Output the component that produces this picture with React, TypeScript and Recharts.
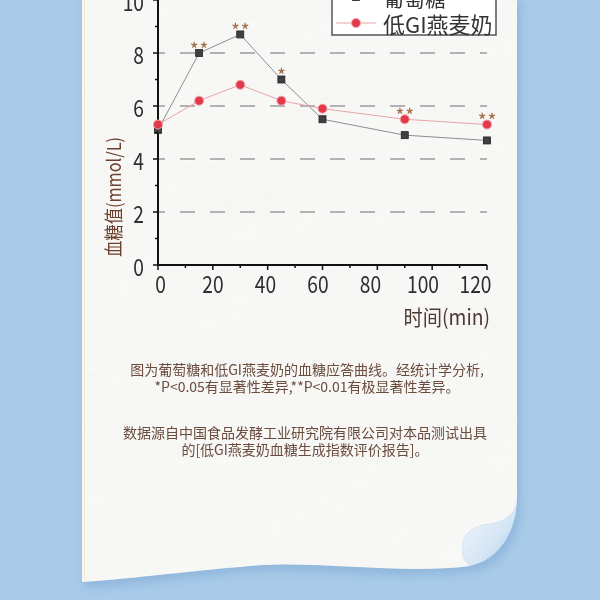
import React from 'react';
import { LineChart, Line, XAxis, YAxis, ReferenceLine, LabelList } from 'recharts';

const times = [0, 15, 30, 45, 60, 90, 120];
const glucose = [5.1, 8.0, 8.7, 7.0, 5.5, 4.9, 4.7];
const oatMilk = [5.3, 6.2, 6.8, 6.2, 5.9, 5.5, 5.3];
const glucoseSig = ['', '**', '**', '*', '', '', ''];
const oatMilkSig = ['', '', '', '', '', '**', '**'];
const xTicks = [0, 10, 20, 30, 40, 50, 60, 70, 80, 90, 100, 110, 120];
const yTicks = [0, 1, 2, 3, 4, 5, 6, 7, 8, 9, 10];
const gridValues = [2, 4, 6, 8];
const seriesNames = ['葡萄糖', '低GI燕麦奶'];
const yLabel = '血糖值(mmol/L)';
const xLabel = '时间(min)';
const note1 = ['图为葡萄糖和低GI燕麦奶的血糖应答曲线。经统计学分析,', '*P<0.05有显著性差异,**P<0.01有极显著性差异。'];
const note2 = ['数据源自中国食品发酵工业研究院有限公司对本品测试出具', '的[低GI燕麦奶血糖生成指数评价报告]。'];

const data = times.map((t, i) => ({
  t,
  glucose: glucose[i],
  oat: oatMilk[i],
  gSig: glucoseSig[i],
  oSig: oatMilkSig[i],
}));

const FONT = '"Noto Sans CJK SC", "Noto Sans", sans-serif';

const YTick = (props: any) => {
  const { x, y, payload } = props;
  const v = payload.value;
  const major = v % 2 === 0;
  return (
    <g>
      <line x1={x - (major ? 5 : 3)} x2={x} y1={y} y2={y} stroke="#111" strokeWidth={1.5} />
      {major && (
        <text transform={`translate(${x - 14},${y + 1}) scale(0.8,1)`} textAnchor="end" dominantBaseline="central" fontSize={24} fill="#2e2e2e" fontFamily={FONT}>
          {v}
        </text>
      )}
    </g>
  );
};

const XTick = (props: any) => {
  const { x, y, payload } = props;
  const v = payload.value;
  const major = v % 20 === 0;
  const tx = x - (v / 120) * 14 + 2.5;
  return (
    <g>
      <line x1={x} x2={x} y1={y} y2={y + (major ? 5 : 3)} stroke="#111" strokeWidth={1.5} />
      {major && (
        <text transform={`translate(${tx},${y + 18}) scale(0.8,1)`} textAnchor="middle" dominantBaseline="central" fontSize={24} fill="#2e2e2e" fontFamily={FONT}>
          {v}
        </text>
      )}
    </g>
  );
};

const renderSig = (props: any) => {
  const { value } = props;
  const x = props.x ?? props.viewBox?.x;
  const y = props.y ?? props.viewBox?.y;
  if (!value) return null;
  return (
    <text x={x} y={y + 3.5} dx={0.5} textAnchor="middle" fontSize={19} letterSpacing={1} fill="#a06b43" fontFamily={FONT}>
      {value}
    </text>
  );
};

const SquareDot = (props: any) => {
  const { cx, cy, index } = props;
  return <rect key={`s${index}`} x={cx - 3.5} y={cy - 3.5} width={7} height={7} fill="#404040" stroke="#222" strokeWidth={0.8} />;
};

const CircleDot = (props: any) => {
  const { cx, cy, index } = props;
  return <circle key={`c${index}`} cx={cx} cy={cy} r={4.5} fill="#e23a4a" stroke="#f2a0a8" strokeWidth={1} />;
};

const YAxisLabel = () => (
  <text transform="translate(112,197) rotate(-90) scale(0.86,1)" textAnchor="middle" dominantBaseline="central" fontSize={19} fill="#6e3f2c" fontFamily={FONT}>
    {yLabel}
  </text>
);

export default function App() {
  return (
    <div style={{ position: 'absolute', left: 0, top: 0, width: 600, height: 600, background: '#a9cbe8', overflow: 'hidden', fontFamily: FONT }}>
      <svg width={600} height={600} style={{ position: 'absolute', left: 0, top: 0 }}>
        <defs>
          <filter id="blur6" x="-20%" y="-20%" width="140%" height="140%">
            <feGaussianBlur stdDeviation="5" />
          </filter>
          <filter id="crumple" x="0" y="0" width="100%" height="100%">
            <feTurbulence type="fractalNoise" baseFrequency="0.012 0.02" numOctaves="4" seed="7" />
            <feDiffuseLighting lightingColor="#ffffff" surfaceScale="2.2" result="lit">
              <feDistantLight azimuth="225" elevation="62" />
            </feDiffuseLighting>
          </filter>
          <clipPath id="paperClip">
            <path d="M82,0 H517 V498 C517,514 505,522 488,524 C470,526 462,536 462,550 C462,558 466,563 470,566 C400,575 320,560 250,566 C180,572 120,580 82,582 Z" />
          </clipPath>
          <linearGradient id="curl" x1="0" y1="0" x2="1" y2="1">
            <stop offset="0" stopColor="#f4f8fc" />
            <stop offset="0.6" stopColor="#d6e6f5" />
            <stop offset="1" stopColor="#a9cbe8" />
          </linearGradient>
        </defs>
        <path d="M84,0 H521 V505 C521,540 500,570 472,572 C400,582 320,568 250,572 C180,578 120,588 84,588 Z" fill="#86afd8" opacity={0.7} filter="url(#blur6)" />
        <path d="M82,0 H517 V498 C517,514 505,522 488,524 C470,526 462,536 462,550 C462,558 466,563 470,566 C400,575 320,560 250,566 C180,572 120,580 82,582 Z" fill="#f8f8f7" />
        <g clipPath="url(#paperClip)">
          <rect x={82} y={0} width={436} height={585} filter="url(#crumple)" opacity={0.18} style={{ mixBlendMode: 'multiply' }} />
        </g>
        <path d="M517,498 C517,530 500,560 470,566 C466,563 462,558 462,550 C462,536 470,526 488,524 C505,522 517,514 517,498 Z" fill="url(#curl)" />
        <line x1={84.5} x2={84.5} y1={0} y2={580} stroke="#efe6cf" strokeWidth={1} />
      </svg>
      <div style={{ position: 'absolute', left: 0, top: 0 }}>
        <LineChart width={600} height={330} data={data} margin={{ top: 0, right: 113, bottom: 35, left: 98 }}>
          <XAxis
            dataKey="t"
            type="number"
            domain={[0, 120]}
            ticks={xTicks}
            interval={0}
            height={30}
            tickSize={0}
            tickMargin={0}
            tickLine={false}
            tick={<XTick />}
            axisLine={{ stroke: '#111', strokeWidth: 2 }}
          />
          <YAxis
            type="number"
            domain={[0, 10]}
            ticks={yTicks}
            interval={0}
            width={60}
            tickSize={0}
            tickMargin={0}
            tickLine={false}
            tick={<YTick />}
            axisLine={{ stroke: '#111', strokeWidth: 2 }}
            label={<YAxisLabel />}
          />
          {gridValues.map((v) => (
            <ReferenceLine key={v} y={v} stroke="#9c9c9c" strokeWidth={1.5} strokeDasharray="15 15" strokeDashoffset={8} />
          ))}
          <Line dataKey="glucose" stroke="#8e8e8e" strokeWidth={1} dot={<SquareDot />} isAnimationActive={false}>
            <LabelList dataKey="gSig" content={renderSig} />
          </Line>
          <Line dataKey="oat" stroke="#eaa4a8" strokeWidth={1} dot={<CircleDot />} isAnimationActive={false}>
            <LabelList dataKey="oSig" content={renderSig} />
          </Line>
        </LineChart>
      </div>
      <svg width={600} height={340} style={{ position: 'absolute', left: 0, top: 0, pointerEvents: 'none' }}>
        <text transform="translate(490,316) scale(0.92,1)" textAnchor="end" dominantBaseline="central" fontSize={21} fill="#4e3a33" fontFamily={FONT}>
          {xLabel}
        </text>
        <rect x={332} y={-14} width={164} height={49} fill="#fff" stroke="#555" strokeWidth={1.5} />
        <line x1={336} x2={376} y1={-3} y2={-3} stroke="#8e8e8e" strokeWidth={1} />
        <rect x={352.5} y={-6.5} width={7} height={7} fill="#404040" stroke="#222" strokeWidth={0.8} />
        <text x={383} y={-3} dominantBaseline="central" fontSize={21} fill="#333" fontFamily={FONT}>{seriesNames[0]}</text>
        <line x1={336} x2={376} y1={23} y2={23} stroke="#eaa4a8" strokeWidth={1.2} />
        <circle cx={356} cy={23} r={4.5} fill="#e23a4a" stroke="#f2a0a8" strokeWidth={1} />
        <text x={383} y={23} dominantBaseline="central" fontSize={22} fill="#333" fontFamily={FONT}>{seriesNames[1]}</text>
      </svg>
      <div style={{ position: 'absolute', left: 0, top: 361, width: 614, textAlign: 'center', fontSize: 14, lineHeight: '17px', color: '#6a4b3d', whiteSpace: 'nowrap' }}>
        {note1.map((l, i) => (<div key={i}>{l}</div>))}
      </div>
      <div style={{ position: 'absolute', left: 0, top: 424, width: 610, textAlign: 'center', fontSize: 14, lineHeight: '17px', color: '#6a4b3d', whiteSpace: 'nowrap' }}>
        {note2.map((l, i) => (<div key={i}>{l}</div>))}
      </div>
    </div>
  );
}
